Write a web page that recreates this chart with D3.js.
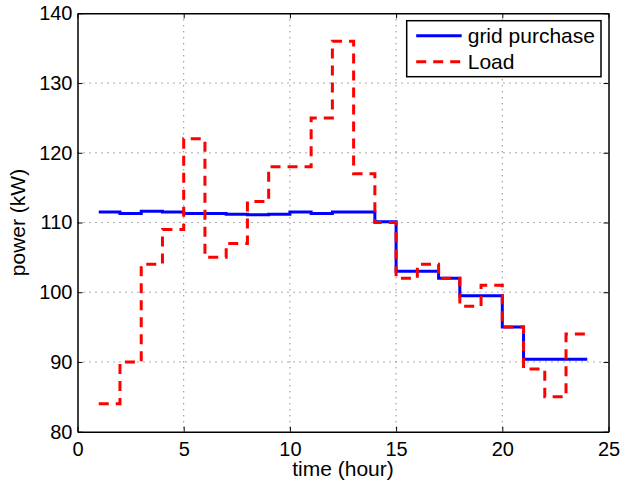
<!DOCTYPE html>
<html>
<head>
<meta charset="utf-8">
<script src="https://cdn.jsdelivr.net/npm/d3@7"></script>
<style>
  html, body { margin: 0; padding: 0; background: #fff; }
  svg { display: block; font-family: "Liberation Sans", Arial, Helvetica, sans-serif; }
</style>
</head>
<body>
<svg id="chart" width="621" height="483"></svg>
<script>
// Hourly profile: grid purchase vs. load (kW), drawn as stairs
const hours = d3.range(1, 25);
const gridPurchase = [111.5, 111.3, 111.6, 111.5, 111.3, 111.3, 111.2, 111.1, 111.2, 111.5,
                      111.3, 111.5, 111.5, 110.1, 103.0, 103.0, 102.0, 99.5, 99.5, 95.0,
                      90.4, 90.4, 90.4, 90.4];
const load = [84, 90, 104, 109, 122, 105, 107, 113, 118, 118,
              125, 136, 117, 110, 102, 104, 102, 98, 101, 95,
              89, 85, 94, 94];
const xTicks = [0, 5, 10, 15, 20, 25];
const yTicks = [80, 90, 100, 110, 120, 130, 140];
const seriesNames = ["grid purchase", "Load"];

const margin = { left: 77.5, top: 13.3, right: 621 - 608.5, bottom: 483 - 431.7 };
const width = 621 - margin.left - margin.right;
const height = 483 - margin.top - margin.bottom;

const svg = d3.select("#chart");
const g = svg.append("g").attr("transform", `translate(${margin.left},${margin.top})`);

const x = d3.scaleLinear().domain([0, 25]).range([0, width]);
const y = d3.scaleLinear().domain([80, 140]).range([height, 0]);

// dotted grid
const grid = g.append("g").attr("stroke", "#333").attr("stroke-width", 1)
  .attr("stroke-dasharray", "1,5").attr("opacity", 0.8);
xTicks.slice(1, -1).forEach(v => {
  grid.append("line").attr("x1", x(v)).attr("x2", x(v)).attr("y1", 0).attr("y2", height);
});
yTicks.slice(1, -1).forEach(v => {
  grid.append("line").attr("x1", 0).attr("x2", width).attr("y1", y(v)).attr("y2", y(v));
});

// axes with inward ticks on all four sides
const tickLen = 5;
const axBottom = g.append("g").attr("transform", `translate(0,${height})`)
  .call(d3.axisBottom(x).tickValues(xTicks).tickSizeInner(-tickLen).tickSizeOuter(0).tickPadding(10));
const axLeft = g.append("g")
  .call(d3.axisLeft(y).tickValues(yTicks).tickSizeInner(-tickLen).tickSizeOuter(0).tickPadding(5));
const axTop = g.append("g")
  .call(d3.axisTop(x).tickValues(xTicks).tickSizeInner(-tickLen).tickSizeOuter(0).tickFormat(""));
const axRight = g.append("g").attr("transform", `translate(${width},0)`)
  .call(d3.axisRight(y).tickValues(yTicks).tickSizeInner(-tickLen).tickSizeOuter(0).tickFormat(""));

[axBottom, axLeft, axTop, axRight].forEach(a => {
  a.select(".domain").attr("stroke", "#000").attr("stroke-width", 1.5);
  a.selectAll(".tick line").attr("stroke", "#000").attr("stroke-width", 1);
  a.selectAll(".tick text").attr("font-size", 20).attr("fill", "#000")
    .attr("font-family", "'Liberation Sans', Arial, sans-serif");
});

// stair lines
const stairs = d3.line().x((d, i) => x(hours[i])).y(d => y(d)).curve(d3.curveStepAfter);

g.append("path").datum(gridPurchase)
  .attr("d", stairs).attr("fill", "none")
  .attr("stroke", "#0000ff").attr("stroke-width", 3).attr("stroke-linejoin", "miter");

g.append("path").datum(load)
  .attr("d", stairs).attr("fill", "none")
  .attr("stroke", "#ff0000").attr("stroke-width", 3).attr("stroke-dasharray", "10,7");

// axis labels
svg.append("text").attr("x", margin.left + width / 2).attr("y", 476)
  .attr("text-anchor", "middle").attr("font-size", 21).text("time (hour)");
svg.append("text").attr("transform", `translate(25,${margin.top + height / 2}) rotate(-90)`)
  .attr("text-anchor", "middle").attr("font-size", 21).text("power (kW)");

// legend
const leg = svg.append("g").attr("transform", "translate(406.7,20.7)");
leg.append("rect").attr("width", 194.3).attr("height", 56)
  .attr("fill", "#fff").attr("stroke", "#000").attr("stroke-width", 1.5);
const legStyles = [
  { color: "#0000ff", dash: null },
  { color: "#ff0000", dash: "10,7" }
];
seriesNames.forEach((name, i) => {
  const yy = 15 + i * 26;
  leg.append("line").attr("x1", 9.5).attr("x2", 55).attr("y1", yy).attr("y2", yy)
    .attr("stroke", legStyles[i].color).attr("stroke-width", 3)
    .attr("stroke-dasharray", legStyles[i].dash);
  leg.append("text").attr("x", 61).attr("y", yy + 7.5).attr("font-size", 21).text(name);
});
</script>
</body>
</html>
